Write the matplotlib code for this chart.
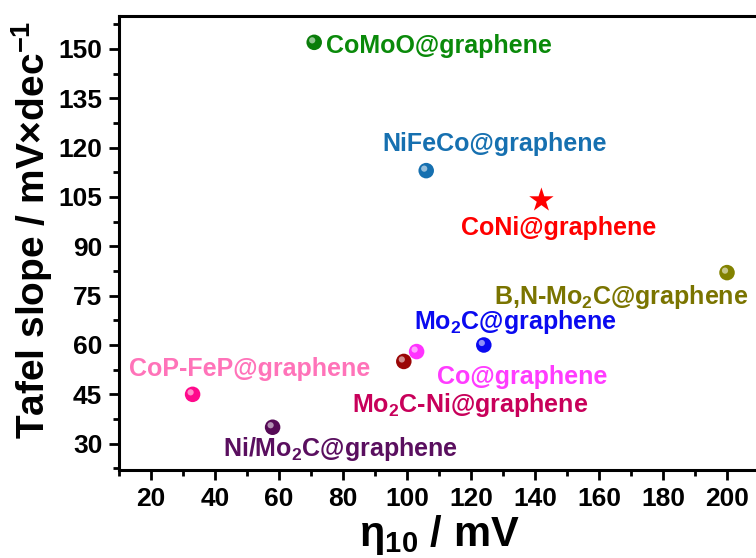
import matplotlib
import matplotlib.pyplot as plt
import matplotlib.transforms as mtransforms

matplotlib.use('Agg')

plt.rcParams['font.family'] = ['Liberation Sans', 'DejaVu Sans']
plt.rcParams['font.weight'] = 'bold'
plt.rcParams['mathtext.fontset'] = 'custom'
plt.rcParams['mathtext.rm'] = 'Liberation Sans:bold'
plt.rcParams['mathtext.it'] = 'Liberation Sans:bold'
plt.rcParams['mathtext.bf'] = 'Liberation Sans:bold'
plt.rcParams['mathtext.default'] = 'rm'

# catalysts: overpotential at 10 mA cm-2 vs Tafel slope
names = ['CoMoO@graphene', 'NiFeCo@graphene', 'B,N-Mo$_2$C@graphene', 'Mo$_2$C@graphene',
         'Co@graphene', 'Mo$_2$C-Ni@graphene', 'CoP-FeP@graphene', 'Ni/Mo$_2$C@graphene']
eta10 = [71, 106, 200, 124, 103, 99, 33, 58]
tafel = [152, 113, 82, 60, 58, 55, 45, 35]

star_name = 'CoNi@graphene'
star_eta10 = 142
star_tafel = 104

marker_colors = ['#0a7d0a', '#1670b0', '#828200', '#0a0af0', '#ff33ff', '#9a0606', '#ff0a8c', '#560a56']
label_colors = ['#0a8a0a', '#1670b0', '#7a7400', '#0a0af0', '#ff3cff', '#c8005a', '#ff73b9', '#5a0f5f']
# label placement relative to each point (pixels) and horizontal alignment
label_offsets = [(12, -4), (68, 27), (-106, -24), (32, 23), (106, -25), (66, -44), (57, 25), (68, -22)]
label_ha = ['left', 'center', 'center', 'center', 'center', 'center', 'center', 'center']

fig = plt.figure(figsize=(7.56, 5.58), dpi=100)
ax = fig.add_axes([0.1574, 0.1577, 0.8466, 0.8136])

# sphere-like markers: body plus a small highlight shifted up-left
shine = mtransforms.offset_copy(ax.transData, fig=fig, x=-2, y=2, units='dots')
for x, y, mc, lc, off, ha, name in zip(eta10, tafel, marker_colors, label_colors,
                                       label_offsets, label_ha, names):
    ax.scatter(x, y, s=125, color=mc, edgecolors='none', zorder=3)
    ax.scatter(x, y, s=20, color='white', alpha=0.55, edgecolors='none', zorder=4, transform=shine)
    ax.annotate(name, (x, y), xytext=off, textcoords='offset pixels', ha=ha, va='center',
                color=lc, fontsize=18, fontweight='bold')

ax.scatter(star_eta10, star_tafel, marker='*', s=340, color='#ff0000', edgecolors='none', zorder=3)
ax.annotate(star_name, (star_eta10, star_tafel), xytext=(17, -28), textcoords='offset pixels',
            ha='center', va='center', color='#ff0000', fontsize=18, fontweight='bold')

ax.set_xlim(10, 210)
ax.set_ylim(22, 160)
ax.set_xticks(range(20, 201, 20))
ax.set_xticks(range(10, 211, 20), minor=True)
ax.set_yticks(range(30, 151, 15))
ax.set_yticks([22.5 + 15 * i for i in range(10)], minor=True)
ax.tick_params(which='major', direction='out', length=7, width=2, labelsize=19, pad=5)
ax.tick_params(which='minor', direction='out', length=4, width=2)
ax.tick_params(top=False, right=False)
for side in ax.spines.values():
    side.set_linewidth(2.2)
for lab in ax.get_xticklabels() + ax.get_yticklabels():
    lab.set_fontweight('bold')

ax.set_xlabel('η$_{10}$ / mV', fontsize=30, fontweight='bold', labelpad=2)
ax.set_ylabel('Tafel slope / mV×dec$^{-1}$', fontsize=28, fontweight='bold')
ax.yaxis.set_label_coords(-0.100, 0.529)

plt.savefig('out.png', dpi=100)
plt.close(fig)
